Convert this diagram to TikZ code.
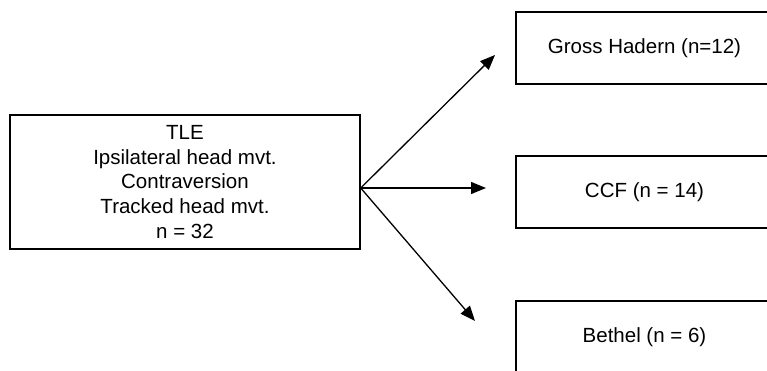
\documentclass[tikz,border=0pt]{standalone}
\usepackage{fontspec}
\setmainfont{Liberation Sans}
\usetikzlibrary{arrows.meta}
\begin{document}
\begin{tikzpicture}[x=1pt,y=-1pt,
  box/.style={draw=black,line width=1.3pt,inner sep=0pt,align=center,
    font=\fontsize{20.5}{24.7}\selectfont},
  arr/.style={line width=1.3pt,-{Triangle[length=15pt,width=12pt]}}]
\useasboundingbox (0,0) rectangle (767,371);
\clip (0,0) rectangle (767,371);
\fill[white] (0,0) rectangle (767,371);
\node[box,minimum width=350pt,minimum height=134pt] (tle) at (185,182)
  {TLE\\Ipsilateral head mvt.\\Contraversion\\Tracked head mvt.\\n = 32};
\node[box,minimum width=257pt,minimum height=72pt] (gh) at (644.5,48) {Gross Hadern (n=12)};
\node[box,minimum width=257pt,minimum height=72pt] (ccf) at (644.5,192) {CCF (n = 14)};
\node[box,minimum width=257pt,minimum height=72pt] (bet) at (644.5,337) {Bethel (n = 6)};
\coordinate (src) at (360.7,188);
\coordinate (t1) at (495,55);
\coordinate (t2) at (486,188);
\coordinate (t3) at (475,321);
\draw[arr] (src) -- (t1);
\draw[arr] (src) -- (t2);
\draw[arr] (src) -- (t3);
\end{tikzpicture}
\end{document}
